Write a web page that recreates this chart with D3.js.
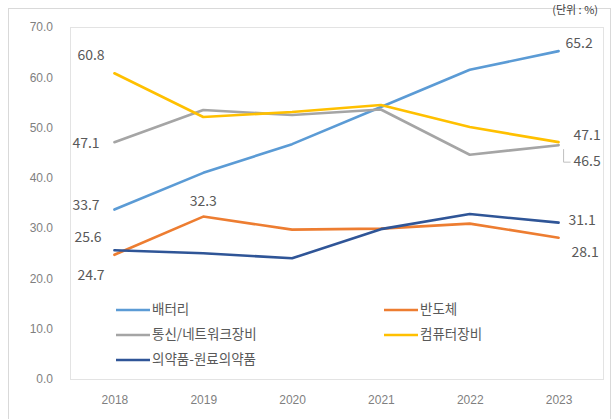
<!DOCTYPE html>
<html>
<head>
<meta charset="utf-8">
<script src="https://cdn.jsdelivr.net/npm/d3@7"></script>
<style>
  html, body { margin: 0; padding: 0; background: #fff; }
  svg { display: block; font-family: "Noto Sans CJK KR", "Noto Sans", sans-serif; }
</style>
</head>
<body>
<svg id="chart" width="615" height="419"></svg>
<script>
// Categories (years) and series values (%)
const years = ["2018", "2019", "2020", "2021", "2022", "2023"];
const battery   = [33.7, 41.0, 46.7, 54.1, 61.5, 65.2];
const semicon   = [24.7, 32.3, 29.7, 29.9, 30.9, 28.1];
const telecom   = [47.1, 53.5, 52.5, 53.6, 44.6, 46.5];
const computer  = [60.8, 52.1, 53.1, 54.5, 50.1, 47.1];
const pharma    = [25.6, 25.0, 24.0, 29.8, 32.8, 31.1];
const seriesNames = ["배터리", "반도체", "통신/네트워크장비", "컴퓨터장비", "의약품-원료의약품"];
const yTicks = [0, 10, 20, 30, 40, 50, 60, 70];
const unitText = "(단위 : %)";

const series = [
  { name: seriesNames[0], values: battery,  color: "#5b9bd5" },
  { name: seriesNames[1], values: semicon,  color: "#ed7d31" },
  { name: seriesNames[2], values: telecom,  color: "#a5a5a5" },
  { name: seriesNames[3], values: computer, color: "#ffc000" },
  { name: seriesNames[4], values: pharma,   color: "#2f5597" }
];

const svg = d3.select("#chart");

// Outer chart frame
svg.append("rect").attr("x", 8.5).attr("y", 8.5).attr("width", 602).attr("height", 420)
  .attr("fill", "#fff").attr("stroke", "#d9d9d9");

// Unit caption at the top right
svg.append("text").attr("x", 598).attr("y", 14).attr("text-anchor", "end")
  .attr("font-size", 11).attr("fill", "#404040").text(unitText);

const plot = { left: 70, right: 603, top: 27, bottom: 379 };

// Plot area box
svg.append("rect").attr("x", plot.left + 0.5).attr("y", plot.top + 0.5)
  .attr("width", plot.right - plot.left).attr("height", plot.bottom - plot.top)
  .attr("fill", "#fff").attr("stroke", "#e3e3e3");

const x = d3.scalePoint().domain(years).range([plot.left, plot.right]).padding(0.5);
const y = d3.scaleLinear().domain([0, 70]).range([plot.bottom, plot.top]);

// Y axis labels
const yAxis = d3.axisLeft(y).tickValues(yTicks).tickFormat(d3.format(".1f")).tickSize(0).tickPadding(0);
const gy = svg.append("g").attr("transform", "translate(53,0)").call(yAxis);
gy.select(".domain").remove();
gy.selectAll("text").attr("font-size", 12).attr("fill", "#7f7f7f");

// X axis labels
const xAxis = d3.axisBottom(x).tickSize(0).tickPadding(0);
const gx = svg.append("g").attr("transform", "translate(0,395)").call(xAxis);
gx.select(".domain").remove();
gx.selectAll("text").attr("font-size", 12).attr("fill", "#7f7f7f");

// Series lines
const line = d3.line().x((d, i) => x(years[i])).y(d => y(d));
series.forEach(s => {
  svg.append("path").datum(s.values).attr("d", line)
    .attr("fill", "none").attr("stroke", s.color).attr("stroke-width", 2.6)
    .attr("stroke-linejoin", "round").attr("stroke-linecap", "round");
});

// Data labels for first and last years
const lblColor = "#595959";
function label(val, cx, cy, anchor) {
  svg.append("text").attr("x", cx).attr("y", cy).attr("text-anchor", anchor || "start")
    .attr("font-size", 14).attr("fill", lblColor).attr("dominant-baseline", "middle")
    .text(d3.format(".1f")(val));
}
const x0 = x(years[0]), x1 = x(years[1]), x5 = x(years[5]);
label(computer[0], x0 - 37, y(computer[0]) - 17);
label(telecom[0], x0 - 42, y(telecom[0]) + 2);
label(battery[0], x0 - 42, y(battery[0]) - 3);
label(pharma[0], x0 - 40, y(pharma[0]) - 12);
label(semicon[0], x0 - 37, y(semicon[0]) + 21);
label(semicon[1], x1, y(semicon[1]) - 14, "middle");
label(battery[5], x5 + 7, y(battery[5]) - 7);
label(computer[5], x5 + 15, y(computer[5]) - 6);
label(telecom[5], x5 + 15, y(telecom[5]) + 17);
label(pharma[5], x5 + 10, y(pharma[5]) - 1);
label(semicon[5], x5 + 13, y(semicon[5]) + 16);

// Leader line for the 2023 telecom label
svg.append("path")
  .attr("d", `M${x5 + 5},${y(telecom[5]) + 4} V${y(telecom[5]) + 17} H${x5 + 12}`)
  .attr("fill", "none").attr("stroke", "#bfbfbf").attr("stroke-width", 1);

// Legend (two columns)
const legendPos = [
  [116, 310], [384, 310],
  [116, 335], [384, 335],
  [116, 360]
];
series.forEach((s, i) => {
  const [lx, ly] = legendPos[i];
  svg.append("line").attr("x1", lx).attr("x2", lx + 34).attr("y1", ly).attr("y2", ly)
    .attr("stroke", s.color).attr("stroke-width", 2.6);
  svg.append("text").attr("x", lx + 36).attr("y", ly).attr("dominant-baseline", "middle")
    .attr("font-size", 13.5).attr("fill", lblColor).text(s.name);
});
</script>
</body>
</html>
